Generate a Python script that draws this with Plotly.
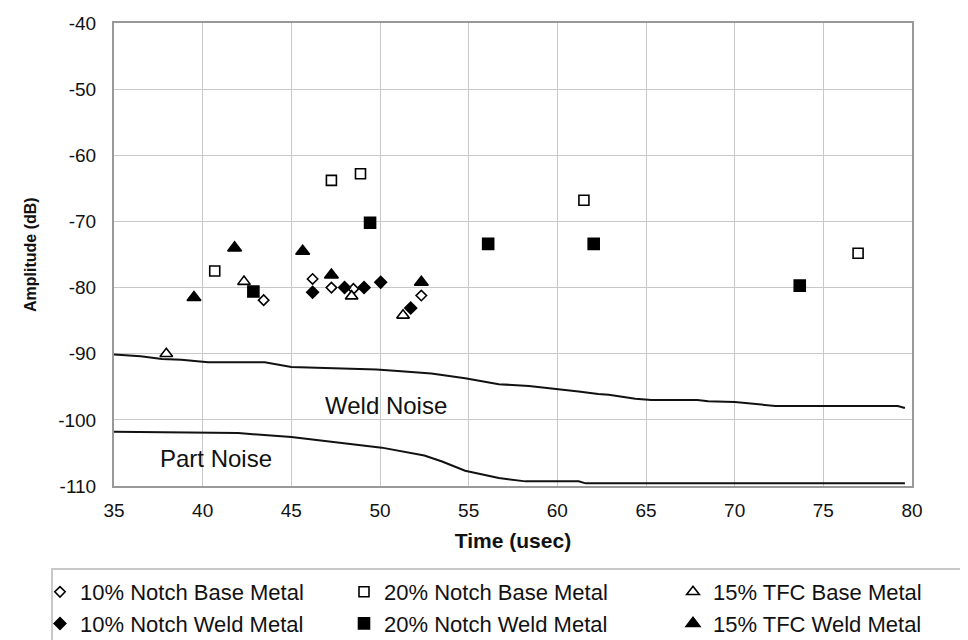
import plotly.graph_objects as go

# ---- data ----
nb10_x = [43.44, 46.2, 47.26, 48.5, 52.33]
nb10_y = [-81.9, -78.7, -80.0, -80.2, -81.2]

nw10_x = [46.2, 48.0, 49.1, 50.04, 51.73]
nw10_y = [-80.7, -80.0, -80.0, -79.2, -83.1]

nb20_x = [40.68, 47.26, 48.9, 61.5, 76.96]
nb20_y = [-77.5, -63.8, -62.8, -66.8, -74.8]

nw20_x = [42.86, 49.44, 56.1, 62.05, 73.67]
nw20_y = [-80.6, -70.2, -73.4, -73.4, -79.7]

tb15_x = [37.95, 42.33, 48.4, 51.3]
tb15_y = [-90.0, -79.1, -81.3, -84.2]

tw15_x = [39.51, 41.8, 45.64, 47.26, 52.33]
tw15_y = [-81.5, -74.0, -74.5, -78.1, -79.2]

weld_x = [35.0, 36.5, 37.7, 38.8, 40.3, 43.5, 45.0, 48.2, 49.8, 51.0, 52.9, 54.8,
          56.7, 58.4, 60.0, 61.2, 62.3, 62.9, 64.4, 65.3, 67.9, 68.5, 70.0, 71.1,
          72.3, 79.2, 79.6]
weld_y = [-90.1, -90.4, -90.8, -90.9, -91.3, -91.3, -92.0, -92.2, -92.4, -92.6, -93.0, -93.7,
          -94.6, -94.9, -95.3, -95.7, -96.1, -96.2, -96.8, -97.0, -97.0, -97.2, -97.3, -97.6,
          -97.9, -97.9, -98.2]

part_x = [35.0, 37.9, 42.0, 45.0, 47.3, 50.1, 52.5, 53.5, 54.8, 56.7, 58.2, 61.2, 61.6, 79.6]
part_y = [-101.8, -101.9, -102.0, -102.6, -103.3, -104.2, -105.4, -106.3, -107.7, -108.8,
          -109.3, -109.3, -109.6, -109.6]

x_ticks = [35, 40, 45, 50, 55, 60, 65, 70, 75, 80]
y_ticks = [-110, -100, -90, -80, -70, -60, -50, -40]

FONT = "Liberation Sans, Arial, sans-serif"
W, H = 968, 640
ML, MR, MT, MB = 106, 64, 15, 162
PW, PH = W - ML - MR, H - MT - MB


def px_x(p):   # pixel -> paper x
    return (p - ML) / PW


def px_y(p):   # pixel -> paper y
    return (H - MB - p) / PH


fig = go.Figure()

# noise curves
fig.add_trace(go.Scatter(x=weld_x, y=weld_y, mode="lines", showlegend=False,
                         line=dict(color="#111111", width=2), hoverinfo="skip"))
fig.add_trace(go.Scatter(x=part_x, y=part_y, mode="lines", showlegend=False,
                         line=dict(color="#111111", width=2), hoverinfo="skip"))

# (name, x, y, symbol, fill, size, legend column)
series = [
    ("10% Notch Base Metal", nb10_x, nb10_y, "diamond", "white", 8, "legend"),
    ("10% Notch Weld Metal", nw10_x, nw10_y, "diamond", "black", 9, "legend"),
    ("20% Notch Base Metal", nb20_x, nb20_y, "square", "white", 10, "legend2"),
    ("20% Notch Weld Metal", nw20_x, nw20_y, "square", "black", 11, "legend2"),
    ("15% TFC Base Metal", tb15_x, tb15_y, "triangle-up", "white", 11, "legend3"),
    ("15% TFC Weld Metal", tw15_x, tw15_y, "triangle-up", "black", 12, "legend3"),
]
for name, xs, ys, sym, fill, size, leg in series:
    fig.add_trace(go.Scatter(
        x=xs, y=ys, mode="markers", name=name, legend=leg,
        marker=dict(symbol=sym, size=size, color=fill,
                    line=dict(color="black", width=1.6)),
    ))

fig.add_annotation(x=50.35, y=-97.9, text="Weld Noise", showarrow=False,
                   font=dict(family=FONT, size=24, color="#111111"))
fig.add_annotation(x=40.75, y=-105.8, text="Part Noise", showarrow=False,
                   font=dict(family=FONT, size=24, color="#111111"))

# y axis title
fig.add_annotation(xref="paper", yref="paper", x=px_x(22), y=px_y(247),
                   xanchor="center", yanchor="middle",
                   text="<b>Amplitude (dB)</b>", textangle=-90, showarrow=False,
                   font=dict(family=FONT, size=16, color="#111111"))

# legend frame (extends past the right edge as in the reference)
fig.add_shape(type="rect", xref="paper", yref="paper",
              x0=px_x(44), x1=px_x(990), y0=px_y(561), y1=px_y(660),
              line=dict(color="#c8c8c8", width=2), fillcolor="rgba(0,0,0,0)", layer="below")

LEG_FONT = dict(family=FONT, size=22, color="#111111")


def leg(px_left):
    return dict(orientation="v", x=px_x(px_left), xanchor="left",
                y=px_y(563), yanchor="top", font=LEG_FONT,
                borderwidth=0, bgcolor="rgba(0,0,0,0)", tracegroupgap=0)


fig.update_layout(
    width=W, height=H,
    margin=dict(l=ML, r=MR, t=MT, b=MB, autoexpand=False),
    paper_bgcolor="white", plot_bgcolor="white",
    font=dict(family=FONT, size=19, color="#111111"),
    showlegend=True,
    legend=leg(32),
    legend2=leg(336),
    legend3=leg(665),
    xaxis=dict(
        range=[35, 80], tickvals=x_ticks, ticktext=[str(v) for v in x_ticks],
        showgrid=True, gridcolor="#c8c8c8", gridwidth=1,
        showline=True, linecolor="#999999", linewidth=2, mirror=True,
        ticks="", zeroline=False, ticklabelstandoff=6,
        title=dict(text="<b>Time (usec)</b>", font=dict(family=FONT, size=21), standoff=14),
        tickfont=dict(family=FONT, size=19),
        automargin=False,
    ),
    yaxis=dict(
        range=[-110, -40], tickvals=y_ticks, ticktext=[str(v) for v in y_ticks],
        showgrid=True, gridcolor="#c8c8c8", gridwidth=1,
        showline=True, linecolor="#999999", linewidth=2, mirror=True,
        ticks="", zeroline=False, ticklabelstandoff=12,
        tickfont=dict(family=FONT, size=19),
        automargin=False,
    ),
)

fig.write_html("out.html")
